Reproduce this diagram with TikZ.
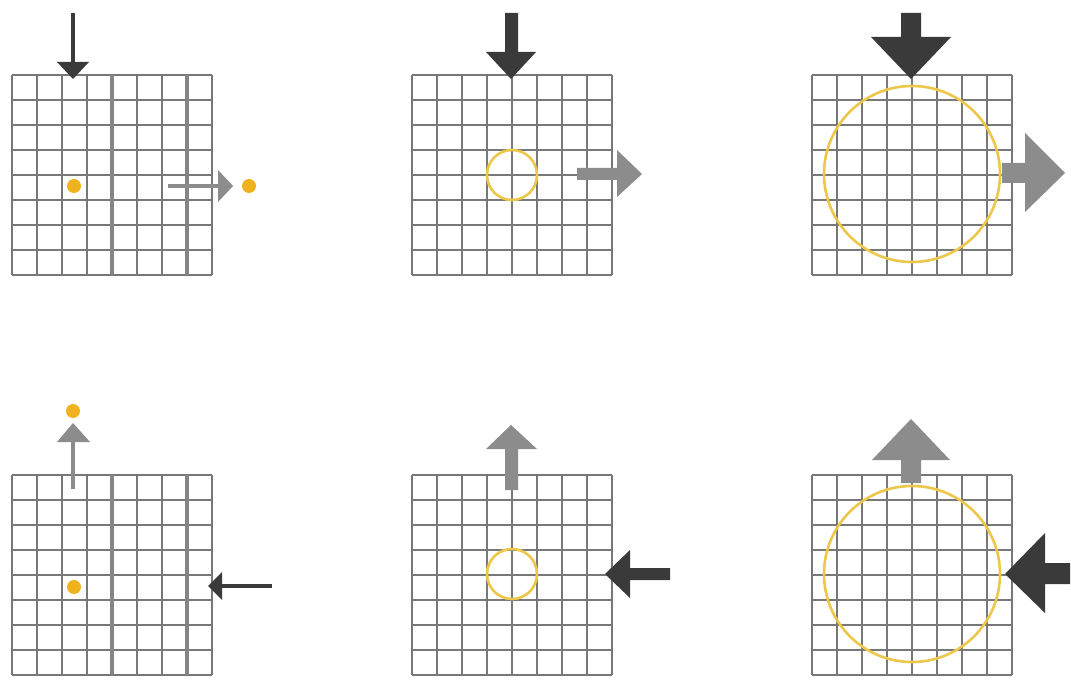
\documentclass[tikz,border=0pt]{standalone}
\begin{document}
\begin{tikzpicture}[x=1pt,y=-1pt]
\definecolor{gridgray}{HTML}{787878}
\definecolor{darkarr}{HTML}{3A3A3A}
\definecolor{grayarr}{HTML}{8C8C8C}
\definecolor{ringyel}{HTML}{EDC74A}
\definecolor{dotyel}{HTML}{F0B21E}
\tikzset{
  gridline/.style={draw=gridgray, line width=1.5pt},
  thickline/.style={draw=gridgray!90, line width=3.5pt},
  darkfill/.style={fill=darkarr, draw=none},
  grayfill/.style={fill=grayarr, draw=none},
  ring/.style={draw=ringyel, line width=2.6pt},
  dotmark/.style={fill=dotyel, draw=none},
}
\useasboundingbox[fill=white] (0,0) rectangle (1071,684);
% grids
\foreach \gx/\gy in {12/75, 412/75, 812/75, 12/475, 412/475, 812/475}{
  \foreach \i in {0,...,8}{
    \draw[gridline] (\gx+25*\i,\gy) -- (\gx+25*\i,\gy+200);
    \draw[gridline] (\gx,\gy+25*\i) -- (\gx+200,\gy+25*\i);
  }
}
% thick lines in left grids
\foreach \gy in {75,475}{
  \draw[thickline] (112,\gy) -- (112,\gy+200);
  \draw[thickline] (187,\gy) -- (187,\gy+200);
}
% ---- top-left
\draw[darkarr, line width=4pt] (73,13) -- (73,63);
\fill[darkfill] (57,62) -- (89,62) -- (73,79) -- cycle;
\fill[dotmark] (74,186) circle (7);
\draw[grayarr, line width=4pt] (168,186) -- (219,186);
\fill[grayfill] (218,170) -- (233,186) -- (218,202) -- cycle;
\fill[dotmark] (249,186) circle (7);
% ---- top-middle
\fill[darkfill] (505,13) -- (518,13) -- (518,52) -- (536,52) -- (511,79) -- (486,52) -- (505,52) -- cycle;
\draw[ring] (512,175) circle (25);
\fill[grayfill] (577,168) -- (617,168) -- (617,150) -- (642,174) -- (617,197) -- (617,180) -- (577,180) -- cycle;
% ---- top-right
\fill[darkfill] (901,13) -- (921,13) -- (921,37) -- (951,37) -- (911,79) -- (871,37) -- (901,37) -- cycle;
\draw[ring] (912,174) circle (88);
\fill[grayfill] (1002,163) -- (1025,163) -- (1025,133) -- (1065,173) -- (1025,212) -- (1025,183) -- (1002,183) -- cycle;
% ---- bottom-left
\fill[dotmark] (73,411) circle (7);
\draw[grayarr, line width=4pt] (73,489) -- (73,441);
\fill[grayfill] (57,442) -- (73,423) -- (90,442) -- cycle;
\fill[dotmark] (74,587) circle (7);
\draw[darkarr, line width=3.5pt] (272,586) -- (221,586);
\fill[darkfill] (222,572) -- (208,586) -- (222,600) -- cycle;
% ---- bottom-middle
\fill[grayfill] (505,490) -- (518,490) -- (518,449) -- (537,449) -- (511,425) -- (486,449) -- (505,449) -- cycle;
\draw[ring] (512,574) circle (25);
\fill[darkfill] (670,568) -- (630,568) -- (630,550) -- (605,574) -- (630,598) -- (630,580) -- (670,580) -- cycle;
% ---- bottom-right
\fill[grayfill] (901,483) -- (921,483) -- (921,460) -- (950,460) -- (911,419) -- (872,460) -- (901,460) -- cycle;
\draw[ring] (912,574) circle (88);
\fill[darkfill] (1070,563) -- (1045,563) -- (1045,533) -- (1005,574) -- (1045,613) -- (1045,584) -- (1070,584) -- cycle;
\end{tikzpicture}
\end{document}
